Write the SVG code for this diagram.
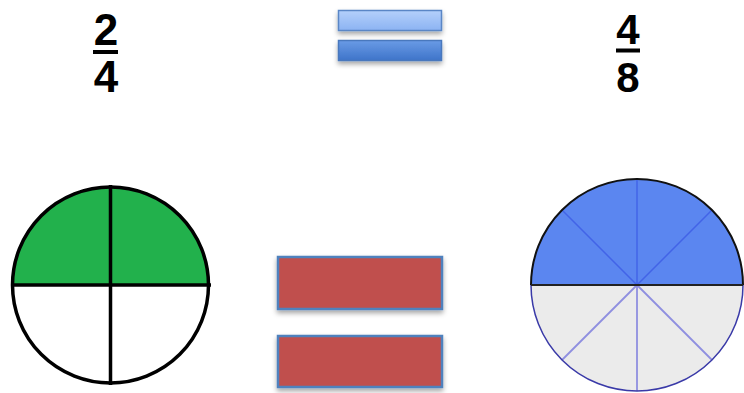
<svg xmlns="http://www.w3.org/2000/svg" width="744" height="393" viewBox="0 0 744 393">
<defs>
<style>
.num{font-family:"Liberation Sans",Arial,sans-serif;font-weight:bold;font-size:44px;fill:#000;text-anchor:middle}
.bar{fill:#000}
.red{fill:#c0504d;stroke:#4f81bd;stroke-width:2.5}
.k{stroke:#000;stroke-width:3.5;fill:none}
</style>
<linearGradient id="gLight" x1="0" y1="0" x2="0" y2="1">
<stop offset="0" stop-color="#b4d0fb"/><stop offset="1" stop-color="#8cb3f2"/>
</linearGradient>
<linearGradient id="gDark" x1="0" y1="0" x2="0" y2="1">
<stop offset="0" stop-color="#6a9be6"/><stop offset="1" stop-color="#3e74c9"/>
</linearGradient>
<filter id="sh" x="-10%" y="-20%" width="120%" height="160%">
<feDropShadow dx="0" dy="3" stdDeviation="2.5" flood-color="#000" flood-opacity="0.35"/>
</filter>
</defs>

<g id="frac-left">
<text class="num" x="106" y="45">2</text>
<rect class="bar" x="93" y="50" width="25" height="4"/>
<text class="num" x="106" y="92">4</text>
</g>

<g id="equals-top" filter="url(#sh)">
<rect x="338.5" y="10.5" width="103" height="20" fill="url(#gLight)" stroke="#5a86c6" stroke-width="1.5"/>
<rect x="338.5" y="40.5" width="103" height="20" fill="url(#gDark)" stroke="#4a78bd" stroke-width="1.5"/>
</g>

<g id="frac-right">
<text class="num" x="628" y="44" style="font-size:42px">4</text>
<rect class="bar" x="616" y="48.5" width="24" height="4"/>
<text class="num" x="628" y="92" style="font-size:42px">8</text>
</g>

<g id="circle-left">
<path d="M12.5 285 A98 98 0 0 1 208.5 285 Z" fill="#22b14c"/>
<circle cx="110.5" cy="285" r="98" class="k"/>
<line x1="110.5" y1="185" x2="110.5" y2="385" class="k"/>
<line x1="11" y1="285" x2="211" y2="285" class="k"/>
</g>

<g id="equals-red" filter="url(#sh)">
<rect class="red" x="278" y="257" width="164" height="52"/>
<rect class="red" x="278" y="336" width="164" height="51"/>
</g>

<g id="circle-right">
<path d="M531 285 A106 106 0 0 1 743 285 Z" fill="#5b86f0"/>
<path d="M531 285 A106 106 0 0 0 743 285 Z" fill="#ebebeb"/>
<g stroke="#3d5ce6" stroke-width="1.5" opacity="0.8">
<line x1="637" y1="285" x2="637" y2="179"/>
<line x1="637" y1="285" x2="562" y2="210"/>
<line x1="637" y1="285" x2="712" y2="210"/>
</g>
<g stroke="#8f8fe0" stroke-width="1.8">
<line x1="637" y1="285" x2="637" y2="391"/>
<line x1="637" y1="285" x2="562" y2="360"/>
<line x1="637" y1="285" x2="712" y2="360"/>
</g>
<path d="M531 285 A106 106 0 0 1 743 285" fill="none" stroke="#111" stroke-width="2"/>
<path d="M531 285 A106 106 0 0 0 743 285" fill="none" stroke="#3a3aa8" stroke-width="1.5"/>
<line x1="531" y1="285" x2="743" y2="285" stroke="#222" stroke-width="2"/>
</g>
</svg>
